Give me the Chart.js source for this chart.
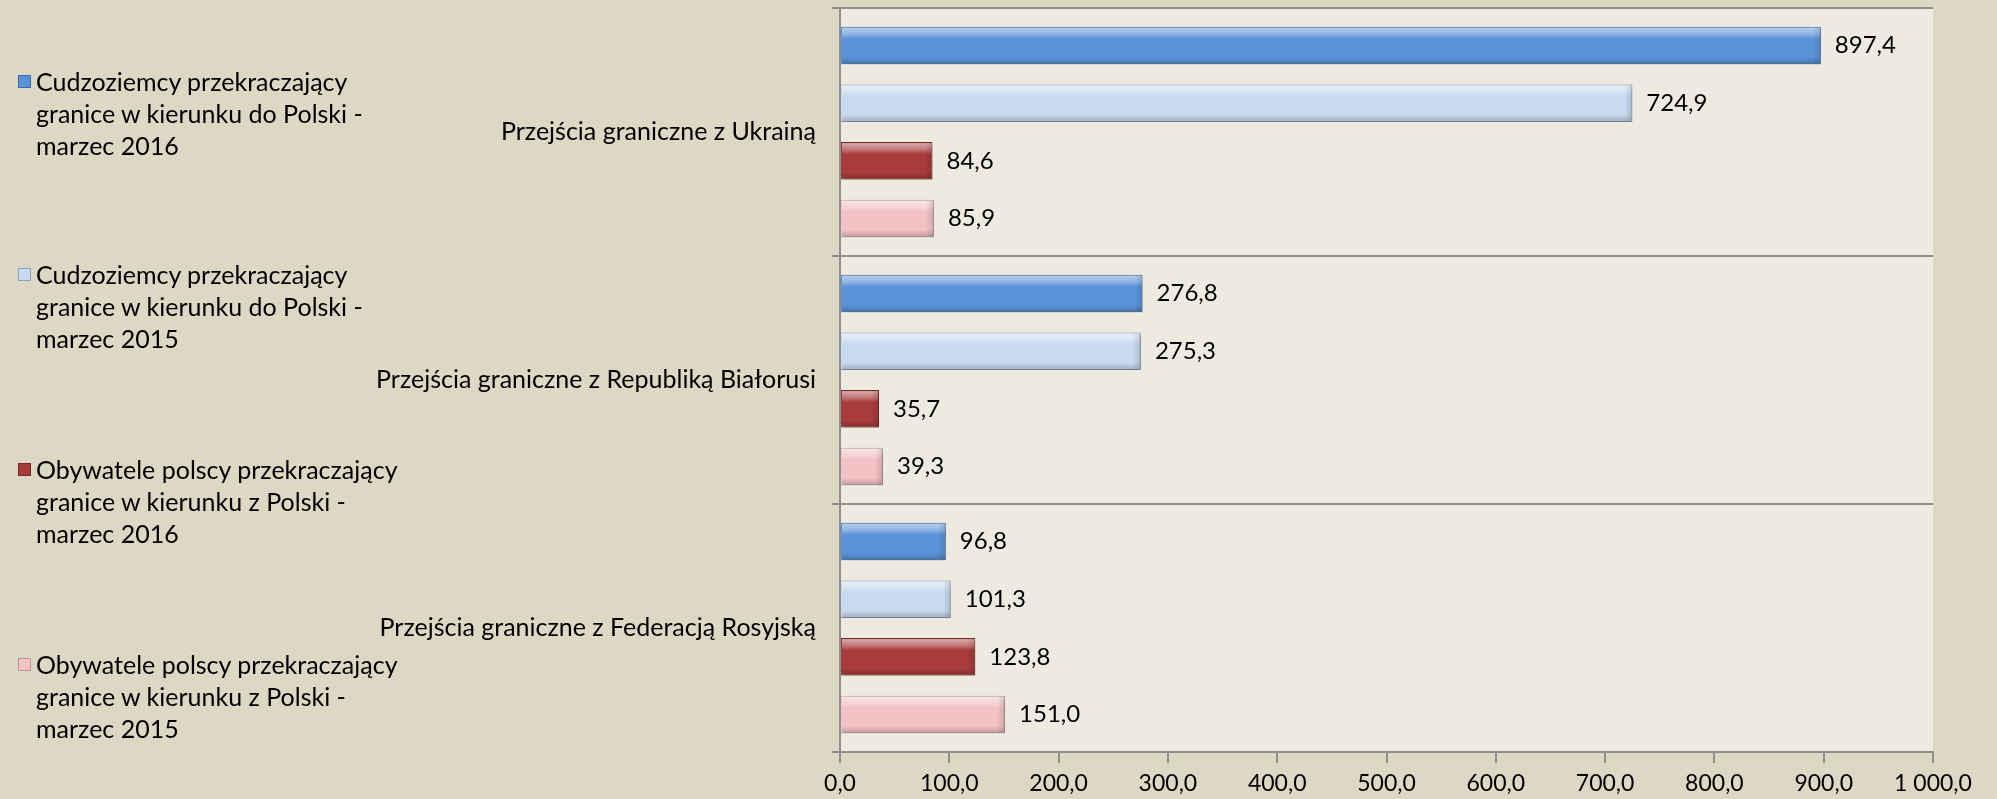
<!DOCTYPE html>
<html>
<head>
<meta charset="utf-8">
<script src="https://cdn.jsdelivr.net/npm/chart.js@4/dist/chart.umd.min.js"></script>
<style>
  html, body { margin: 0; padding: 0; background: #DDD8C3; }
  #wrap { position: relative; width: 1997px; height: 799px; }
  #legend { position: absolute; left: 0; top: 0; font-family: Lato, sans-serif; font-size: 25px; color: #000; }
  .item { position: absolute; left: 36px; line-height: 32px; white-space: pre; }
  .box { position: absolute; left: -18px; top: 10px; width: 11px; height: 11px; border: 1px solid #888; }
</style>
</head>
<body>
<div id="wrap">
  <canvas id="borderChart" width="1997" height="799"></canvas>
  <div id="legend"></div>
</div>
<script>
// ======================
// DATA
// ======================
const categories = [
  "Przejścia graniczne z Ukrainą",
  "Przejścia graniczne z Republiką Białorusi",
  "Przejścia graniczne z Federacją Rosyjską"
];

const seriesLabels = [
  "Cudzoziemcy przekraczający granice w kierunku do Polski - marzec 2016",
  "Cudzoziemcy przekraczający granice w kierunku do Polski - marzec 2015",
  "Obywatele polscy przekraczający granice w kierunku z Polski - marzec 2016",
  "Obywatele polscy przekraczający granice w kierunku z Polski - marzec 2015"
];

const foreigners2016 = [897.4, 276.8, 96.8];
const foreigners2015 = [724.9, 275.3, 101.3];
const poles2016 = [84.6, 35.7, 123.8];
const poles2015 = [85.9, 39.3, 151.0];

const xTicks = [0, 100, 200, 300, 400, 500, 600, 700, 800, 900, 1000];

// ======================
// STYLE
// ======================
const fills = ["#5A93D8", "#C8DAF0", "#A83C3C", "#F2C2C4"];
const borders = ["#3C6CA8", "#8FA3BC", "#772828", "#B59898"];
const legendLines = [
  ["Cudzoziemcy przekraczający", "granice w kierunku do Polski -", "marzec 2016"],
  ["Cudzoziemcy przekraczający", "granice w kierunku do Polski -", "marzec 2015"],
  ["Obywatele polscy przekraczający", "granice w kierunku z Polski -", "marzec 2016"],
  ["Obywatele polscy przekraczający", "granice w kierunku z Polski -", "marzec 2015"]
];
const legendTops = [65, 258, 453, 648];

function plNumber(v) {
  const s = v.toFixed(1).replace(".", ",");
  const parts = s.split(",");
  parts[0] = parts[0].replace(/\B(?=(\d{3})+(?!\d))/g, " ");
  return parts.join(",");
}

// ======================
// PLUGINS
// ======================
const plotBackground = {
  id: "plotBackground",
  beforeDraw(chart) {
    const a = chart.chartArea;
    const ctx = chart.ctx;
    ctx.save();
    ctx.fillStyle = "#EDEBE0";
    ctx.fillRect(a.left, a.top, a.right - a.left, a.bottom - a.top);
    ctx.restore();
  }
};

const barShadow = {
  id: "barShadow",
  beforeDatasetDraw(chart) {
    const ctx = chart.ctx;
    ctx.save();
    ctx.shadowColor = "rgba(0,0,0,0.28)";
    ctx.shadowBlur = 5;
    ctx.shadowOffsetX = 2;
    ctx.shadowOffsetY = 3;
  },
  afterDatasetDraw(chart) {
    chart.ctx.restore();
  }
};

const bevel = {
  id: "bevel",
  afterDatasetsDraw(chart) {
    const ctx = chart.ctx;
    chart.data.datasets.forEach((ds, i) => {
      const meta = chart.getDatasetMeta(i);
      meta.data.forEach(bar => {
        const h = bar.height;
        const top = bar.y - h / 2;
        const left = Math.min(bar.base, bar.x);
        const w = Math.abs(bar.x - bar.base);
        const g = ctx.createLinearGradient(0, top, 0, top + h);
        g.addColorStop(0, "rgba(255,255,255,0.6)");
        g.addColorStop(0.2, "rgba(255,255,255,0.3)");
        g.addColorStop(0.32, "rgba(255,255,255,0)");
        g.addColorStop(0.8, "rgba(0,0,0,0)");
        g.addColorStop(1, "rgba(0,0,0,0.2)");
        ctx.save();
        ctx.fillStyle = g;
        ctx.fillRect(left + 1, top + 1, w - 2, h - 2);
        // right bevel end
        const r = ctx.createLinearGradient(left + w - 8, 0, left + w, 0);
        r.addColorStop(0, "rgba(0,0,0,0)");
        r.addColorStop(1, "rgba(0,0,0,0.15)");
        ctx.fillStyle = r;
        ctx.fillRect(left + w - 8, top + 1, 7, h - 2);
        ctx.restore();
      });
    });
  }
};

const valueLabels = {
  id: "valueLabels",
  afterDatasetsDraw(chart) {
    const ctx = chart.ctx;
    ctx.save();
    ctx.font = "24px Lato, sans-serif";
    ctx.fillStyle = "#000";
    ctx.textAlign = "left";
    ctx.textBaseline = "middle";
    chart.data.datasets.forEach((ds, i) => {
      const meta = chart.getDatasetMeta(i);
      meta.data.forEach((bar, j) => {
        ctx.fillText(plNumber(ds.data[j]), bar.x + 14, bar.y);
      });
    });
    ctx.restore();
  }
};

// ======================
// CHART
// ======================
const ctx = document.getElementById("borderChart").getContext("2d");

const seriesData = [foreigners2016, foreigners2015, poles2016, poles2015];

new Chart(ctx, {
  type: "bar",
  data: {
    labels: categories,
    datasets: seriesData.map((d, i) => ({
      label: seriesLabels[i],
      data: d,
      backgroundColor: fills[i],
      borderColor: borders[i],
      borderWidth: 1,
      categoryPercentage: 0.93,
      barPercentage: 0.65
    }))
  },
  options: {
    indexAxis: "y",
    responsive: false,
    animation: false,
    layout: { padding: { top: 8, right: 64, bottom: 0, left: 0 } },
    plugins: {
      legend: { display: false },
      tooltip: { enabled: false }
    },
    scales: {
      x: {
        min: 0,
        max: 1000,
        afterBuildTicks(scale) {
          scale.ticks = xTicks.map(v => ({ value: v }));
        },
        afterFit(scale) {
          scale.height = 47;
          scale.paddingLeft = 0;
          scale.paddingRight = 0;
        },
        grid: {
          drawOnChartArea: false,
          drawTicks: true,
          tickLength: 11,
          color: "#8E8E8E",
          lineWidth: 2
        },
        border: { display: true, color: "#8E8E8E", width: 2 },
        ticks: {
          color: "#000",
          padding: 7,
          font: { family: "Lato, sans-serif", size: 23 },
          maxRotation: 0,
          callback: v => plNumber(v)
        }
      },
      y: {
        afterFit(scale) {
          scale.width = 840;
          scale.paddingTop = 0;
          scale.paddingBottom = 0;
        },
        grid: {
          offset: true,
          drawTicks: true,
          tickLength: 8,
          color: "#8E8E8E",
          lineWidth: 2
        },
        border: { display: true, color: "#8E8E8E", width: 2 },
        ticks: {
          color: "#000",
          padding: 16,
          font: { family: "Lato, sans-serif", size: 25 }
        }
      }
    }
  },
  plugins: [plotBackground, barShadow, bevel, valueLabels]
});

// ======================
// LEGEND
// ======================
const legend = document.getElementById("legend");
legendLines.forEach((lines, i) => {
  const item = document.createElement("div");
  item.className = "item";
  item.style.top = legendTops[i] + "px";
  const box = document.createElement("span");
  box.className = "box";
  box.style.background = fills[i];
  box.style.borderColor = borders[i];
  item.appendChild(box);
  item.appendChild(document.createTextNode(lines.join("\n")));
  legend.appendChild(item);
});
</script>
</body>
</html>
